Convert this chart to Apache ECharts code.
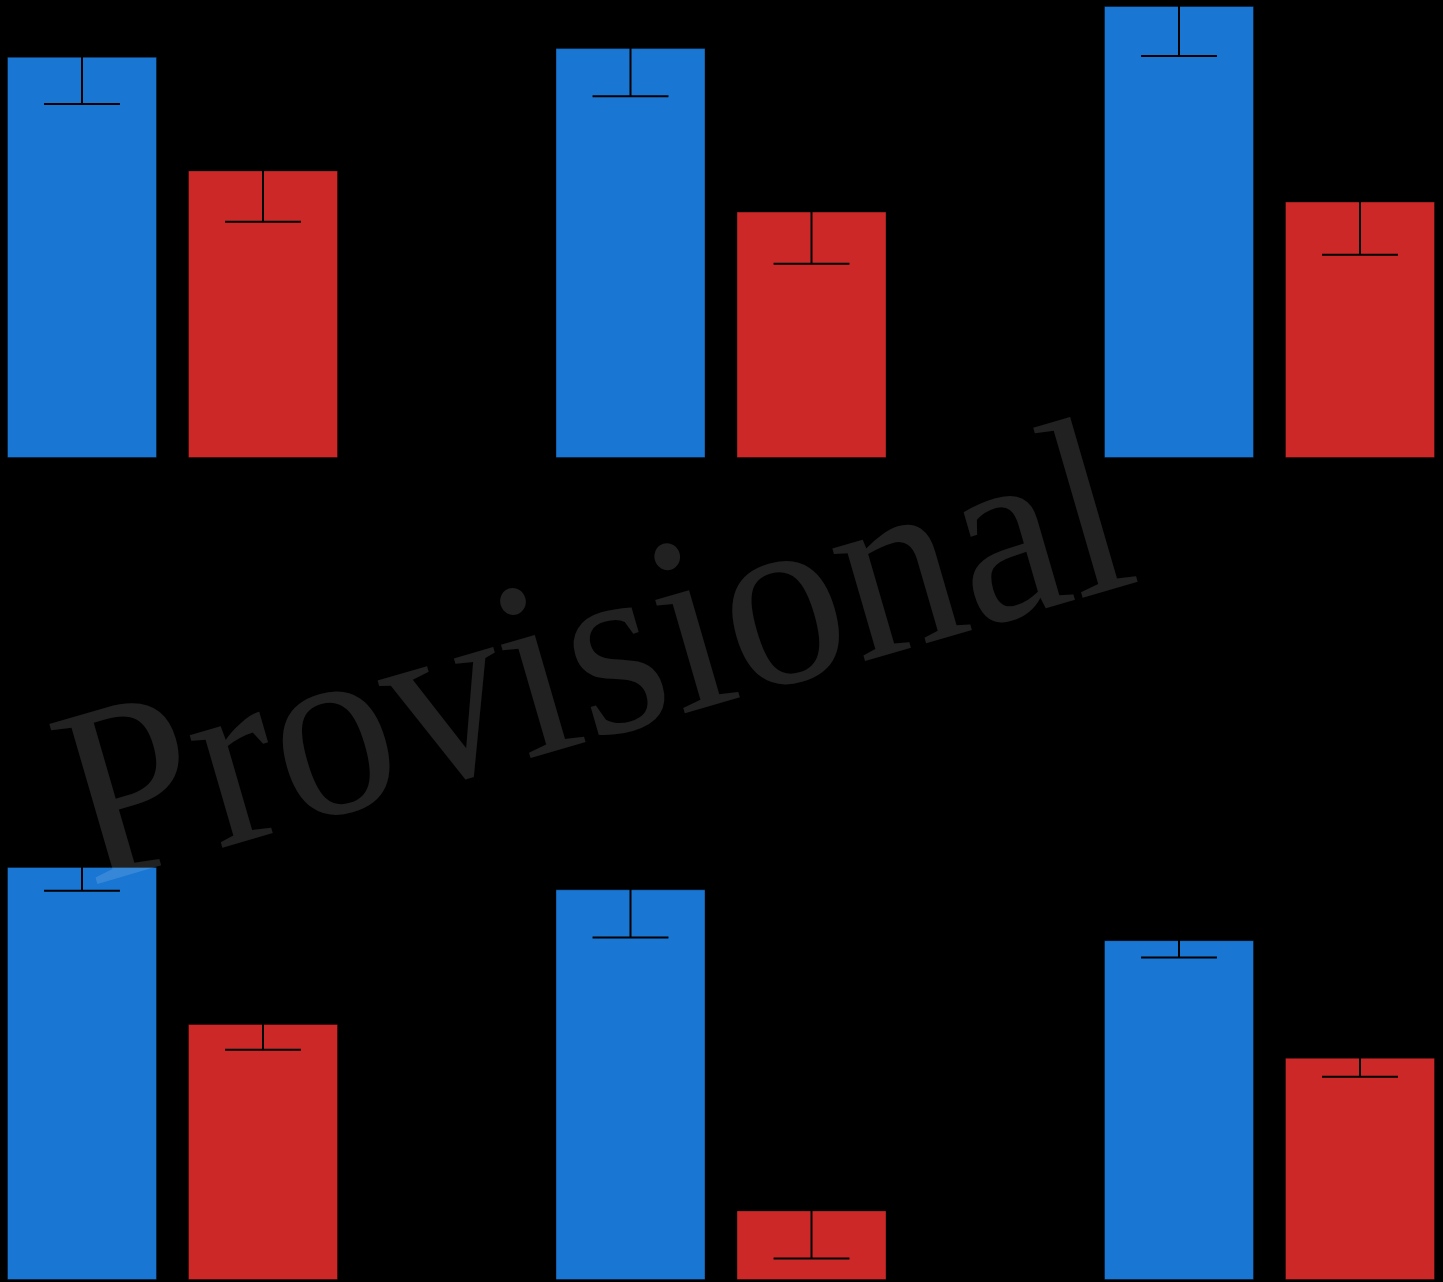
<!DOCTYPE html>
<html>
<head>
<meta charset="utf-8">
<style>
  html, body { margin: 0; padding: 0; background: #000; }
  #chart { width: 1443px; height: 1282px; }
</style>
<script src="https://cdn.jsdelivr.net/npm/echarts@6/dist/echarts.min.js"></script>
</head>
<body>
<div id="chart"></div>
<script>
// Six panels (two rows of three), each comparing two groups
const panels = ['Panel 1', 'Panel 2', 'Panel 3', 'Panel 4', 'Panel 5', 'Panel 6'];
const groups = ['Control', 'Treatment'];
const blueMeans = [87.6, 89.5, 98.7, 90.2, 85.3, 74.2];
const blueErrors = [10.3, 10.5, 10.9, 5.2, 10.5, 3.8];
const redMeans = [62.8, 53.8, 56.0, 55.9, 15.2, 48.5];
const redErrors = [11.2, 11.4, 11.6, 5.6, 10.5, 4.1];
const watermarkText = 'Provisional';

const BLUE = '#1976D2';
const RED = '#CC2828';
const BAR_WIDTH = 150;
const BAR_GAP = '20.67%';

const chart = echarts.init(document.getElementById('chart'), null, { renderer: 'canvas' });

const grids = [], xAxes = [], yAxes = [], series = [];

function barStyle(color) {
  return { color: color, borderColor: 'rgba(0,0,0,0.35)', borderWidth: 1 };
}

for (let i = 0; i < 6; i++) {
  const col = i % 3, row = Math.floor(i / 3);
  grids.push({
    left: 548.5 * col,
    width: 345,
    top: row === 0 ? 0 : 822,
    height: 458
  });
  xAxes.push({ gridIndex: i, type: 'category', data: [panels[i]], show: false });
  yAxes.push({ gridIndex: i, type: 'value', min: 0, max: 100, show: false });

  series.push({
    name: groups[0], type: 'bar', xAxisIndex: i, yAxisIndex: i,
    barWidth: BAR_WIDTH, barGap: BAR_GAP, silent: true,
    itemStyle: barStyle(BLUE),
    data: [blueMeans[i]]
  });
  series.push({
    name: groups[1], type: 'bar', xAxisIndex: i, yAxisIndex: i,
    barWidth: BAR_WIDTH, barGap: BAR_GAP, silent: true,
    itemStyle: barStyle(RED),
    data: [redMeans[i]]
  });

  // Error bars: black whiskers centred on each bar top
  series.push({
    type: 'custom',
    xAxisIndex: i,
    yAxisIndex: i,
    silent: true,
    z: 5,
    clip: false,
    data: [
      [0, blueMeans[i], blueErrors[i], 0],
      [0, redMeans[i], redErrors[i], 1]
    ],
    renderItem: function (params, api) {
      const m = api.value(1);
      const e = api.value(2);
      const k = api.value(3);
      const layout = api.barLayout({ count: 2, barWidth: BAR_WIDTH, barGap: BAR_GAP });
      const hi = api.coord([api.value(0), m + e]);
      const lo = api.coord([api.value(0), m - e]);
      const x = hi[0] + layout[k].offsetCenter;
      const half = layout[k].width * 0.253;
      const style = { stroke: '#000', lineWidth: 2 };
      return {
        type: 'group',
        children: [
          { type: 'line', shape: { x1: x, y1: hi[1], x2: x, y2: lo[1] }, style: style },
          { type: 'line', shape: { x1: x - half, y1: lo[1], x2: x + half, y2: lo[1] }, style: style },
          { type: 'line', shape: { x1: x - half, y1: hi[1], x2: x + half, y2: hi[1] }, style: style }
        ]
      };
    }
  });
}

// Watermark: 90px serif text scaled up to about 255px, slightly condensed
const WM_SCALE = 255 / 90;

chart.setOption({
  backgroundColor: '#000',
  animation: false,
  grid: grids,
  xAxis: xAxes,
  yAxis: yAxes,
  series: series,
  graphic: [{
    type: 'text',
    x: 597,
    y: 669,
    rotation: 16.2 * Math.PI / 180,
    scaleX: 0.944 * WM_SCALE,
    scaleY: WM_SCALE,
    z: 100,
    silent: true,
    style: {
      text: watermarkText,
      font: '90px "Liberation Serif"',
      fill: 'rgba(255,255,255,0.13)',
      align: 'center',
      verticalAlign: 'middle'
    }
  }]
});
</script>
</body>
</html>
